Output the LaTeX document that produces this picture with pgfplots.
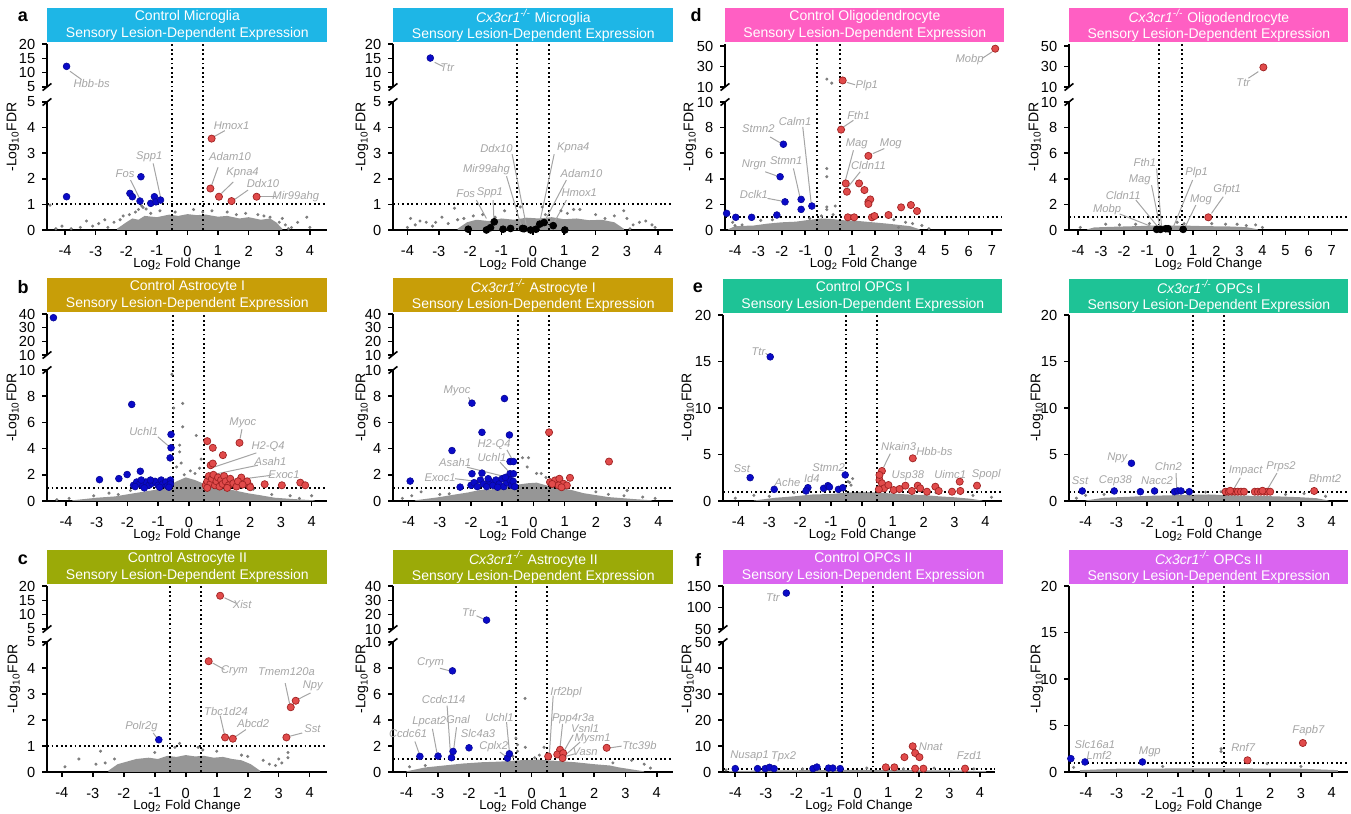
\documentclass[border=0pt]{standalone}
\usepackage{pgfplots}
\pgfplotsset{compat=1.18}
\usepackage{fontspec}
\setmainfont{Liberation Sans}
\definecolor{bl}{RGB}{10,10,200}
\definecolor{rd}{RGB}{225,75,75}
\definecolor{rdk}{RGB}{160,35,35}
\definecolor{cg}{RGB}{125,125,125}
\definecolor{cloud}{RGB}{150,150,150}
\definecolor{labc}{RGB}{165,165,165}
\definecolor{mic}{RGB}{30,182,230}
\definecolor{ast1}{RGB}{200,158,8}
\definecolor{ast2}{RGB}{155,170,8}
\definecolor{oli}{RGB}{255,95,195}
\definecolor{opc1}{RGB}{30,195,150}
\definecolor{opc2}{RGB}{218,100,240}
\tikzset{
  thr/.style={black, line width=1pt, dash pattern=on 0.9pt off 1.4pt},
  lab/.style={font=\fontsize{5.6}{6}\selectfont\itshape, text=labc, inner sep=0.4pt},
  lead/.style={labc, line width=0.5pt},
}
\pgfplotsset{
  vbase/.style={scale only axis, clip=false, anchor=south west,
    axis line style={-, line width=0.9pt},
    tick style={line width=0.8pt, black},
    tick align=outside, major tick length=2.4pt,
    tick label style={font=\fontsize{7.3}{8}\selectfont},
    /pgf/number format/assume math mode=true},
  vlow/.style={vbase, axis x line*=bottom, axis y line*=left, ymin=0,
    xtick={-4,...,4},
    xticklabel style={yshift=-2pt},
    xlabel={Log\textsubscript{2} Fold Change},
    xlabel style={font=\fontsize{6.6}{7}\selectfont, yshift=6pt}},
  vup/.style={vbase, axis x line=none, axis y line*=left, xtick=\empty},
  bp/.style={only marks, mark=*, mark size=1.7pt, mark options={fill=bl, draw=bl!75!black, line width=0.3pt}},
  rp/.style={only marks, mark=*, mark size=1.8pt, mark options={fill=rd, draw=rdk, line width=0.35pt}},
  kp/.style={only marks, mark=*, mark size=1.7pt, mark options={fill=black, draw=black}},
  gp/.style={only marks, mark=*, mark size=0.55pt, mark options={fill=cg, draw=cg}},
  cl/.style={fill=cloud, draw=none},
}
\newcommand{\thr}{%
  \draw[thr] (axis cs:-0.5,0) -- ([yshift=93pt]axis cs:-0.5,0);
  \draw[thr] (axis cs:0.5,0) -- ([yshift=93pt]axis cs:0.5,0);
  \draw[thr] ({rel axis cs:0,0}|-{axis cs:0,1}) -- ({rel axis cs:1,0}|-{axis cs:0,1});}
\newcommand{\brk}[1]{\draw[line width=0.8pt] (rel axis cs:0,#1) ++(-2.2pt,-1.8pt) -- ++(4.4pt,3.6pt);}
\newcommand{\banner}[3]{\node[fill=#1, text=white, anchor=south west, minimum width=#2, minimum height=17pt, inner sep=0pt, align=center, yshift=0.6pt, font=\fontsize{7}{8.3}\selectfont] at (rel axis cs:0,1) {#3};}
\newcommand{\ylab}[2]{\node[rotate=90, font=\fontsize{7}{8}\selectfont] at (#1,#2) {-Log\textsubscript{10}FDR};}
\newcommand{\ttl}{Sensory Lesion-Dependent Expression}
\newcommand{\kx}{\textit{Cx3cr1}\textsuperscript{\textit{-/-}}}
\newcommand{\gl}[3]{\node[lab] at (axis cs:#1,#2) {#3};}
\newcommand{\gline}[4]{\draw[lead] (axis cs:#1,#2) -- (axis cs:#3,#4);}
\newcommand{\plab}[3]{\node[font=\bfseries\fontsize{9}{10}\selectfont] at (#1,#2) {#3};}
\begin{document}
\begin{tikzpicture}
% ================= ROW 1 =================
% ---- a lower
\begin{axis}[vlow, at={(23.5pt,292pt)}, width=140pt, height=64pt, xmin=-4.59, xmax=4.56, ymax=5, ytick={0,...,5}]
\addplot[cl] coordinates {(-2.3,0.05) (-2.0,0.3) (-1.8,0.45) (-1.6,0.4) (-1.4,0.55) (-1.0,0.5) (-0.6,0.6) (-0.3,0.55) (0,0.62) (0.3,0.58) (0.6,0.6) (1.0,0.52) (1.3,0.55) (1.7,0.45) (2.0,0.5) (2.4,0.4) (2.7,0.45) (2.9,0.3) (3.1,0.05)} \closedcycle;
\addplot[gp] coordinates {(-4.49,0.97) (-4.3,0.05) (-4.1,0.15) (-3.8,0.05) (-3.5,0.1) (-3.3,0.35) (-3.1,0.15) (-2.9,0.25) (-2.7,0.4) (-2.6,0.1) (-2.4,0.3) (-2.2,0.4) (-2.1,0.55) (-1.9,0.6) (-1.7,0.7) (-1.6,0.8) (-1.5,0.95) (-1.45,0.88) (-1.35,0.82) (-1.2,0.65) (-0.9,0.75) (-0.4,0.7) (0.2,0.8) (0.5,0.7) (0.8,0.75) (1.3,0.7) (1.6,0.6) (1.9,0.65) (2.3,0.6) (2.5,0.55) (2.7,0.5) (3.0,0.3) (3.1,0.45) (3.2,0.2) (3.4,0.1) (3.6,0.3) (3.9,0.5) (4.0,0.1) (3.3,0.05)};
\thr
\addplot[bp] coordinates {(-3.95,1.3) (-1.88,1.43) (-1.8,1.3) (-1.55,1.13) (-1.52,2.08) (-1.2,1.04) (-1.08,1.3) (-1.03,1.1) (-0.88,1.17)};
\addplot[rp] coordinates {(0.79,3.57) (0.75,1.62) (1.03,1.3) (1.44,1.13) (2.26,1.3)};
\gline{0.86}{3.64}{1.22}{3.88}\gl{1.44}{4.09}{Hmox1}
\gline{0.79}{1.75}{1.0}{2.45}\gl{1.39}{2.86}{Adam10}
\gline{1.11}{1.43}{1.5}{1.88}\gl{1.8}{2.23}{Kpna4}
\gline{1.55}{1.2}{1.98}{1.56}\gl{2.47}{1.82}{Ddx10}
\gline{2.36}{1.3}{2.9}{1.3}\gl{3.54}{1.3}{Mir99ahg}
\gline{-1.86}{1.95}{-1.55}{1.2}\gl{-2.04}{2.2}{Fos}
\gline{-1.12}{2.6}{-0.87}{1.23}\gl{-1.25}{2.86}{Spp1}
\brk{1}
\end{axis}
% ---- a upper
\begin{axis}[vup, at={(23.5pt,363.5pt)}, width=140pt, height=21.5pt, xmin=-4.59, xmax=4.56, ymin=5, ymax=20, ytick={5,10,15,20}]
\addplot[bp] coordinates {(-3.95,12.2)};
\gline{-3.84}{10.5}{-3.46}{7.6}\gl{-3.13}{6.05}{Hbb-bs}
\brk{0}
\banner{mic}{140pt}{Control Microglia\\\ttl}
\end{axis}
% ---- a2 lower
\begin{axis}[vlow, at={(196.5pt,292pt)}, width=140pt, height=64pt, xmin=-4.46, xmax=4.47, ymax=5, ytick={0,...,5}]
\addplot[cl] coordinates {(-2.4,0.05) (-2.1,0.3) (-1.8,0.4) (-1.4,0.35) (-1.0,0.45) (-0.6,0.4) (-0.2,0.48) (0.2,0.45) (0.6,0.5) (1.0,0.42) (1.4,0.45) (1.8,0.38) (2.2,0.4) (2.6,0.3) (2.9,0.05)} \closedcycle;
\addplot[gp] coordinates {(-4.0,0.1) (-3.9,0.45) (-3.75,0.2) (-3.6,0.35) (-3.4,0.3) (-3.2,0.15) (-3.1,0.3) (-2.9,0.5) (-2.7,0.25) (-2.5,0.85) (-2.4,0.4) (-2.2,0.45) (-1.9,0.55) (-1.6,0.6) (-1.2,0.5) (-0.9,0.75) (-0.4,0.9) (0.3,0.9) (0.4,0.6) (0.9,0.75) (1.1,0.65) (1.3,0.8) (1.5,0.8) (2.0,0.6) (2.3,0.45) (2.6,0.55) (2.9,0.75) (3.0,0.45) (3.2,0.2) (3.4,0.3) (3.6,0.35) (3.8,0.2) (3.9,0.1) (3.1,0.05)};
\thr
\addplot[kp] coordinates {(-2.06,0.03) (-1.48,0.0) (-1.35,0.09) (-1.23,0.32) (-0.95,0.03) (-0.71,0.06) (-0.33,0.06) (-0.28,0.05) (-0.07,0.0) (0.1,0.03) (0.22,0.23) (0.36,0.29) (0.65,0.17) (1.02,0.0)};
\gline{-1.8}{1.17}{-1.48}{0.45}\gl{-2.14}{1.42}{Fos}
\gline{-1.27}{1.17}{-1.24}{0.4}\gl{-1.37}{1.45}{Spp1}
\gline{-0.84}{2.1}{-0.36}{0.12}\gl{-1.48}{2.34}{Mir99ahg}
\gline{-0.66}{2.96}{-0.2}{0.12}\gl{-1.16}{3.18}{Ddx10}
\gline{0.68}{2.96}{0.22}{0.3}\gl{1.29}{3.22}{Kpna4}
\gline{1.07}{1.95}{0.38}{0.35}\gl{1.55}{2.2}{Adam10}
\gline{1.07}{1.17}{0.65}{0.22}\gl{1.48}{1.45}{Hmox1}
\brk{1}
\end{axis}
% ---- a2 upper
\begin{axis}[vup, at={(196.5pt,363.5pt)}, width=140pt, height=21.5pt, xmin=-4.46, xmax=4.47, ymin=5, ymax=20, ytick={5,10,15,20}]
\addplot[bp] coordinates {(-3.27,15.1)};
\gline{-3.13}{13.6}{-2.87}{12.2}\gl{-2.73}{11.6}{Ttr}
\brk{0}
\banner{mic}{140pt}{\kx{} Microglia\\\ttl}
\end{axis}
% ---- d lower
\begin{axis}[vlow, at={(362.5pt,292pt)}, width=138.5pt, height=64pt, xmin=-4.43, xmax=7.43, ymax=10, ytick={0,2,...,10}, xtick={-4,...,7}]
\addplot[cl] coordinates {(-4.3,0.05) (-4.0,0.3) (-3.2,0.35) (-2.6,0.5) (-2.0,0.6) (-1.4,0.65) (-0.8,0.8) (-0.3,0.9) (0.2,0.85) (0.7,0.75) (1.3,0.7) (1.9,0.6) (2.5,0.5) (3.0,0.4) (3.5,0.3) (3.9,0.05)} \closedcycle;
\addplot[gp] coordinates {(-4.1,0.6) (-3.7,0.4) (-2.9,0.75) (-2.4,0.8) (-0.07,4.8) (-0.07,4.16) (-0.07,1.8) (-0.07,1.6) (0.29,1.87) (-0.3,1.1) (0.2,1.2) (2.8,0.8) (3.3,0.6) (3.6,0.5) (4.0,0.35) (-0.8,0.9) (1.0,0.9) (-4.0,0.35) (3.0,0.2) (4.3,0.1)};
\thr
\addplot[bp] coordinates {(-1.93,6.7) (-2.07,4.16) (-1.86,2.2) (-1.17,2.39) (-1.17,1.61) (-0.71,1.87) (-2.21,1.17) (-3.29,0.99) (-3.97,0.99) (-4.36,1.3)};
\addplot[rp] coordinates {(0.54,7.84) (1.71,5.79) (0.74,3.64) (0.79,2.99) (1.31,3.64) (1.54,3.12) (1.71,2.2) (1.79,2.39) (1.71,2.03) (0.83,0.99) (1.1,0.99) (1.86,0.99) (1.97,1.09) (2.57,1.17) (3.11,1.77) (3.53,1.95) (3.79,1.48)};
\gline{0.64}{8.05}{1.07}{8.57}\gl{1.29}{8.96}{Fth1}
\gline{1.9}{5.97}{2.39}{6.36}\gl{2.67}{6.7}{Mog}
\gline{1.07}{6.23}{0.71}{3.77}\gl{1.21}{6.7}{Mag}
\gline{1.36}{4.55}{0.79}{3.25}\gl{1.71}{5.06}{Cldn11}
\gline{-2.5}{7.27}{-2.07}{6.81}\gl{-3.0}{7.92}{Stmn2}
\gline{-2.71}{4.55}{-2.19}{4.21}\gl{-3.19}{5.06}{Nrgn}
\gline{-2.61}{2.47}{-2.0}{2.26}\gl{-3.19}{2.78}{Dclk1}
\gline{-1.5}{4.81}{-1.21}{2.47}\gl{-1.81}{5.45}{Stmn1}
\gline{-1.1}{8.05}{-0.74}{2.08}\gl{-1.43}{8.5}{Calm1}
\brk{1}
\end{axis}
% ---- d upper
\begin{axis}[vup, at={(362.5pt,363.5pt)}, width=138.5pt, height=21.5pt, xmin=-4.43, xmax=7.43, ymin=10, ymax=52, ytick={10,30,50}]
\addplot[gp] coordinates {(-0.07,17.7) (0.14,13.8)};
\addplot[rp] coordinates {(7.14,47.4) (0.61,16.4)};
\gline{6.57}{37.8}{7.0}{44.2}\gl{6.04}{36.8}{Mobp}
\gline{0.79}{14.5}{1.14}{12.2}\gl{1.64}{11.3}{Plp1}
\brk{0}
\banner{oli}{139.5pt}{Control Oligodendrocyte\\\ttl}
\end{axis}
% ---- d2 lower
\begin{axis}[vlow, at={(534.5pt,292pt)}, width=139.5pt, height=64pt, xmin=-4.39, xmax=7.71, ymax=10, ytick={0,2,...,10}, xtick={-4,...,7}]
\addplot[cl] coordinates {(-3.6,0.05) (-3.3,0.2) (-2.5,0.25) (-1.5,0.3) (-0.5,0.35) (0.5,0.35) (1.5,0.3) (2.5,0.28) (3.3,0.22) (3.8,0.05)} \closedcycle;
\addplot[gp] coordinates {(-3.9,0.2) (-2.8,0.45) (-2.2,0.4) (-1.5,0.45) (0.3,0.6) (0.6,0.5) (1.8,0.5) (2.4,0.45) (2.9,0.45) (3.3,0.35) (3.7,0.4) (4.0,0.2) (-0.9,0.5)};
\thr
\addplot[kp] coordinates {(-0.59,0.05) (-0.42,0.05) (-0.19,0.1) (-0.09,0.1) (0.56,0.05)};
\addplot[rp] coordinates {(1.65,0.99)};
\gline{-0.59}{4.8}{-0.38}{0.31}\gl{-1.1}{5.25}{Fth1}
\gline{-0.81}{3.5}{-0.45}{0.26}\gl{-1.32}{3.9}{Mag}
\gline{-1.49}{2.34}{-0.52}{0.21}\gl{-2.04}{2.73}{Cldn11}
\gline{-2.19}{1.25}{-0.62}{0.13}\gl{-2.74}{1.61}{Mobp}
\gline{0.97}{3.9}{0.13}{0.21}\gl{1.14}{4.47}{Plp1}
\gline{1.11}{1.95}{0.64}{0.21}\gl{1.33}{2.39}{Mog}
\gline{2.3}{2.6}{1.79}{1.3}\gl{2.47}{3.12}{Gfpt1}
\brk{1}
\end{axis}
% ---- d2 upper
\begin{axis}[vup, at={(534.5pt,363.5pt)}, width=139.5pt, height=21.5pt, xmin=-4.39, xmax=7.71, ymin=10, ymax=52, ytick={10,30,50}]
\addplot[rp] coordinates {(4.04,29.2)};
\gline{3.39}{18.6}{3.82}{25.0}\gl{3.17}{14.5}{Ttr}
\brk{0}
\banner{oli}{139.5pt}{\kx{} Oligodendrocyte\\\ttl}
\end{axis}
% ================= ROW 2 =================
% ---- b lower
\begin{axis}[vlow, at={(23.5pt,156.5pt)}, width=140pt, height=65.5pt, xmin=-4.62, xmax=4.5, ymax=10, ytick={0,2,...,10}]
\addplot[cl] coordinates {(-3.8,0.05) (-3.0,0.25) (-2.4,0.35) (-1.9,0.55) (-1.5,0.7) (-1.1,0.85) (-0.7,1.1) (-0.4,1.5) (-0.1,1.8) (0.2,1.6) (0.5,1.3) (0.9,1.0) (1.4,0.85) (1.9,0.6) (2.3,0.45) (2.8,0.25) (3.4,0.15) (4.1,0.05)} \closedcycle;
\addplot[gp] coordinates {(-0.55,9.67) (-0.2,7.45) (-0.49,7.1) (-0.2,5.66) (0.24,5.0) (-0.3,4.26) (-0.3,3.75) (-0.4,2.6) (-0.25,2.9) (0.05,2.3) (0.2,2.1) (0.35,2.5) (-0.15,2.0) (0.4,3.2) (-2.6,0.6) (-3.1,0.4) (-3.9,0.2) (-4.3,0.1) (2.7,0.5) (3.3,0.4) (3.6,0.2) (4.0,0.4) (2.1,0.9) (1.5,1.1) (-1.9,0.8) (-2.3,0.5)};
\thr
\addplot[bp] coordinates {(-1.86,7.37) (-0.58,5.08) (-0.58,4.06) (-0.61,3.29) (-1.58,2.27) (-2.01,2.02) (-2.28,1.71) (-2.91,1.63) (-1.8,1.2) (-1.7,1.45) (-1.6,1.3) (-1.5,1.15) (-1.4,1.45) (-1.3,1.2) (-1.2,1.35) (-1.1,1.5) (-1.0,1.2) (-0.9,1.6) (-0.85,1.3) (-0.75,1.45) (-0.7,1.15) (-0.6,1.6) (-0.6,1.3) (-1.55,1.6) (-1.25,1.6) (-0.95,1.05) (-1.45,1.0) (-0.65,1.05) (-1.75,1.1)};
\addplot[rp] coordinates {(1.65,4.44) (0.6,4.57) (0.78,4.06) (1.11,3.5) (0.71,2.73) (0.78,2.86) (1.71,1.79) (2.47,1.28) (3.03,1.2) (3.63,1.4) (3.79,1.2) (1.98,1.15) (0.55,1.2) (0.6,1.5) (0.65,1.9) (0.7,1.3) (0.75,1.7) (0.8,2.0) (0.85,1.2) (0.9,1.5) (0.95,1.8) (1.0,1.1) (1.05,1.6) (1.1,1.3) (1.15,1.9) (1.2,1.5) (1.3,1.2) (1.35,1.7) (1.45,1.35) (1.55,1.1) (1.6,1.5) (0.6,1.0) (1.25,1.0) (1.9,1.5) (2.0,1.05) (1.75,1.25)};
\gline{-1.01}{4.9}{-0.63}{4.13}\gl{-1.47}{5.28}{Uchl1}
\gline{1.73}{5.48}{1.67}{4.77}\gl{1.76}{5.97}{Myoc}
\gline{2.2}{3.67}{0.67}{2.47}\gl{2.58}{4.13}{H2-Q4}
\gline{2.25}{2.73}{0.67}{1.96}\gl{2.66}{2.98}{Asah1}
\gline{2.68}{1.96}{0.57}{1.33}\gl{3.1}{2.04}{Exoc1}
\brk{1}
\end{axis}
% ---- b upper
\begin{axis}[vup, at={(23.5pt,229.5pt)}, width=140pt, height=20.5pt, xmin=-4.62, xmax=4.5, ymin=10, ymax=40, ytick={10,20,30,40}]
\addplot[bp] coordinates {(-4.41,37.3)};
\brk{0}
\banner{ast1}{140pt}{Control Astrocyte I\\\ttl}
\end{axis}
% ---- b2 lower
\begin{axis}[vlow, at={(196.5pt,156.5pt)}, width=140pt, height=65.5pt, xmin=-4.5, xmax=4.47, ymax=10, ytick={0,2,...,10}]
\addplot[cl] coordinates {(-3.8,0.05) (-3,0.3) (-2.5,0.5) (-2.1,0.65) (-1.7,0.85) (-1.3,0.9) (-0.9,1.1) (-0.5,1.25) (-0.2,1.35) (0.1,1.4) (0.4,1.2) (0.8,1.0) (1.2,0.85) (1.6,0.6) (2.0,0.45) (2.4,0.3) (3.2,0.15) (3.8,0.05)} \closedcycle;
\addplot[gp] coordinates {(-0.16,3.3) (-0.35,3.3) (0.1,2.1) (0.25,2.1) (-0.2,2.6) (0.4,1.8) (-3.6,0.7) (-3.0,0.5) (-2.7,0.55) (2.0,0.7) (2.4,0.5) (2.9,0.4) (3.0,0.8) (3.5,0.3) (-3.9,0.4) (-4.2,0.2) (3.9,0.2)};
\thr
\addplot[bp] coordinates {(-1.97,7.47) (-0.93,7.82) (-1.65,5.24) (-0.77,5.04) (-2.61,3.85) (-3.95,1.52) (-1.97,2.08) (-1.65,2.13) (-0.75,3.01) (-0.64,3.01) (-0.75,2.08) (-0.64,2.08) (-2.0,1.2) (-1.9,1.4) (-1.8,1.1) (-1.7,1.6) (-1.6,1.3) (-1.5,1.1) (-1.4,1.5) (-1.3,1.2) (-1.2,1.6) (-1.1,1.3) (-1.0,1.7) (-0.95,1.1) (-0.85,1.4) (-0.75,1.6) (-0.7,1.2) (-0.65,1.5) (-0.6,1.1) (-1.45,1.7) (-1.15,1.05) (-0.9,1.8) (-2.35,1.06)};
\addplot[rp] coordinates {(0.5,5.24) (2.42,3.01) (0.53,1.44) (0.69,1.57) (0.83,1.7) (0.96,1.32) (1.17,1.77) (0.8,1.19) (1.07,1.19) (0.6,1.3) (0.9,1.05)};
\gline{-2.08}{7.92}{-2.01}{7.59}\gl{-2.45}{8.4}{Myoc}
\gline{-0.85}{3.9}{-0.66}{3.09}\gl{-1.26}{4.3}{H2-Q4}
\gline{-1.07}{2.96}{-0.73}{2.08}\gl{-1.33}{3.29}{Uchl1}
\gline{-2.13}{2.58}{-0.85}{1.82}\gl{-2.51}{2.96}{Asah1}
\gline{-2.51}{1.7}{-0.75}{1.19}\gl{-2.99}{1.77}{Exoc1}
\brk{1}
\end{axis}
% ---- b2 upper
\begin{axis}[vup, at={(196.5pt,229.5pt)}, width=140pt, height=20.5pt, xmin=-4.5, xmax=4.47, ymin=10, ymax=40, ytick={10,20,30,40}]
\brk{0}
\banner{ast1}{140pt}{\kx{} Astrocyte I\\\ttl}
\end{axis}
% ---- e single
\begin{axis}[vlow, at={(361.5pt,156.5pt)}, width=139.5pt, height=93pt, xmin=-4.5, xmax=4.54, ymax=20, ytick={0,5,...,20}]
\addplot[cl] coordinates {(-3.5,0.05) (-2.8,0.35) (-2.2,0.5) (-1.6,0.7) (-1.0,0.75) (-0.5,0.9) (0,1.0) (0.5,0.9) (1.0,0.8) (1.5,0.7) (2.0,0.65) (2.5,0.5) (3.0,0.4) (3.5,0.25) (3.9,0.05)} \closedcycle;
\addplot[gp] coordinates {(-0.4,2.0) (-0.3,2.4) (-0.45,2.1) (-0.35,1.7) (-3.5,0.6) (-4.1,0.3) (3.6,0.6) (3.2,0.8) (-2.2,0.9) (2.4,0.9) (4.2,0.4) (-3.0,0.5) (1.2,1.0)};
\thr
\addplot[bp] coordinates {(-2.97,15.5) (-3.62,2.51) (-2.84,1.25) (-1.75,1.43) (-1.81,1.08) (-1.24,1.36) (-1.1,1.65) (-1.05,1.5) (-0.76,1.25) (-0.62,1.43) (-0.54,2.8)};
\addplot[rp] coordinates {(1.65,4.59) (0.65,3.23) (3.17,2.08) (3.73,1.65) (0.57,2.26) (0.65,1.9) (0.72,1.36) (0.86,1.72) (1.03,1.18) (1.22,1.29) (1.41,1.65) (1.62,1.08) (1.81,1.65) (1.89,1.36) (2.11,1.0) (2.38,1.54) (2.49,1.08) (2.92,1.0) (3.19,1.08) (0.57,2.8) (0.55,1.25)};
\gline{-3.12}{15.9}{-3.02}{15.6}\gl{-3.35}{16.0}{Ttr}
\gl{-3.89}{3.44}{Sst}\gl{-2.41}{2.0}{Ache}\gl{-1.62}{2.44}{Id4}\gl{-1.08}{3.58}{Stmn2}
\gline{0.92}{5.1}{0.7}{3.6}\gl{1.19}{5.84}{Nkain3}
\gl{2.35}{5.3}{Hbb-bs}\gl{1.49}{2.69}{Usp38}\gl{2.86}{2.8}{Uimc1}\gl{4.03}{2.8}{Spopl}
\banner{opc1}{139.5pt}{Control OPCs I\\\ttl}
\end{axis}
% ---- e2 single
\begin{axis}[vlow, at={(534.5pt,156.5pt)}, width=139.5pt, height=93pt, xmin=-4.54, xmax=4.53, ymax=20, ytick={0,5,...,20}]
\addplot[cl] coordinates {(-4.0,0.05) (-3.4,0.35) (-2.6,0.45) (-2,0.55) (-1.4,0.6) (-0.8,0.65) (0,0.7) (0.8,0.6) (1.5,0.55) (2.2,0.5) (3,0.4) (3.5,0.3) (3.9,0.05)} \closedcycle;
\addplot[gp] coordinates {(-4.0,0.6) (-3.4,0.7) (-0.1,0.95) (0.4,1.0) (2.5,0.7) (3.1,0.8) (3.8,0.5) (-4.3,0.3)};
\thr
\addplot[bp] coordinates {(-2.51,4.06) (-4.11,1.08) (-3.07,1.08) (-2.22,1.0) (-1.76,1.08) (-1.11,1.0) (-1.0,1.08) (-0.9,1.08) (-0.63,1.0)};
\addplot[rp] coordinates {(0.55,1.0) (0.65,1.0) (0.75,1.0) (0.85,1.0) (0.95,1.0) (1.05,1.0) (1.15,1.0) (1.5,1.0) (1.6,1.0) (1.7,1.0) (1.8,1.0) (1.9,1.0) (2.0,1.0) (0.7,1.1) (1.75,1.1) (3.43,1.08)};
\gl{-2.97}{4.68}{Npy}\gl{-4.18}{2.19}{Sst}\gl{-3.03}{2.19}{Cep38}\gl{-1.68}{2.19}{Nacc2}
\gline{-1.06}{3.0}{-1.04}{1.3}\gl{-1.31}{3.7}{Chn2}
\gline{1.03}{2.5}{0.8}{1.2}\gl{1.2}{3.24}{Impact}
\gline{2.22}{3.0}{1.9}{1.2}\gl{2.35}{3.7}{Prps2}
\gl{3.78}{2.37}{Bhmt2}
\banner{opc1}{139.5pt}{\kx{} OPCs I\\\ttl}
\end{axis}
% ================= ROW 3 =================
% ---- c lower
\begin{axis}[vlow, at={(23.5pt,21pt)}, width=140pt, height=65pt, xmin=-4.48, xmax=4.56, ymax=5, ytick={0,...,5}]
\addplot[cl] coordinates {(-2.5,0.05) (-2.2,0.3) (-1.9,0.4) (-1.6,0.5) (-1.2,0.55) (-0.9,0.5) (-0.6,0.62) (-0.3,0.58) (0,0.65) (0.3,0.6) (0.6,0.62) (0.9,0.55) (1.2,0.58) (1.5,0.5) (1.8,0.45) (2.1,0.3) (2.4,0.05)} \closedcycle;
\addplot[gp] coordinates {(-3.9,0.2) (-3.45,0.5) (-2.9,0.3) (-2.75,0.8) (-2.6,0.35) (-0.35,0.95) (0.4,0.95) (0.55,0.85) (1.8,0.65) (2.0,0.6) (2.7,0.3) (2.9,0.25) (3.0,0.5) (3.1,0.35) (3.3,0.55) (3.3,0.75) (2.5,0.45) (-2.3,0.5) (1.0,0.8) (-1.0,0.75) (-0.2,1.1)};
\thr
\addplot[bp] coordinates {(-0.87,1.24)};
\addplot[rp] coordinates {(0.74,4.26) (3.39,2.49) (3.55,2.74) (3.25,1.33) (1.27,1.33) (1.52,1.28)};
\gline{0.87}{4.19}{1.25}{3.94}\gl{1.57}{3.9}{Crym}
\gline{3.21}{3.42}{3.36}{2.59}\gl{3.25}{3.87}{Tmem120a}
\gline{4.03}{3.04}{3.6}{2.78}\gl{4.1}{3.33}{Npy}
\gline{3.76}{1.5}{3.34}{1.37}\gl{4.09}{1.65}{Sst}
\gline{1.11}{2.17}{1.25}{1.44}\gl{1.3}{2.31}{Tbc1d24}
\gline{1.94}{1.63}{1.57}{1.33}\gl{2.18}{1.88}{Abcd2}
\gline{-1.05}{1.5}{-0.93}{1.31}\gl{-1.43}{1.76}{Polr2g}
\brk{1}
\end{axis}
% ---- c upper
\begin{axis}[vup, at={(23.5pt,92.5pt)}, width=140pt, height=21.5pt, xmin=-4.48, xmax=4.56, ymin=5, ymax=20, ytick={5,10,15,20}]
\addplot[rp] coordinates {(1.11,16.6)};
\gline{1.25}{15.9}{1.62}{14.0}\gl{1.82}{13.7}{Xist}
\brk{0}
\banner{ast2}{140pt}{Control Astrocyte II\\\ttl}
\end{axis}
% ---- c2 lower
\begin{axis}[vlow, at={(196.5pt,21pt)}, width=140pt, height=65pt, xmin=-4.43, xmax=4.52, ymax=10, ytick={0,2,...,10}]
\addplot[cl] coordinates {(-4.0,0.05) (-3.4,0.35) (-2.8,0.5) (-2.2,0.65) (-1.6,0.75) (-1,0.8) (-0.4,0.9) (0.2,0.95) (0.8,0.85) (1.4,0.75) (2,0.6) (2.5,0.5) (2.8,0.35) (3.6,0.05)} \closedcycle;
\addplot[gp] coordinates {(-0.21,5.66) (-0.45,2.1) (-0.45,1.6) (-0.2,1.9) (0.4,1.9) (0.25,1.3) (0.1,1.1) (-3.9,0.4) (3.2,0.9) (3.6,0.6) (3.8,0.3) (2.6,0.7) (-3.4,0.5) (-0.6,1.2) (-0.5,2.6)};
\thr
\addplot[bp] coordinates {(-2.53,7.78) (-3.57,1.2) (-2.99,1.22) (-2.56,1.1) (-2.51,1.58) (-2.0,1.86) (-0.77,1.07) (-0.71,1.4)};
\addplot[rp] coordinates {(0.53,1.2) (0.91,1.71) (0.82,1.35) (1.01,1.45) (0.99,1.07) (2.4,1.86)};
\gline{-2.93}{7.98}{-2.61}{7.78}\gl{-3.23}{8.37}{Crym}
\gline{-3.73}{2.35}{-3.59}{1.4}\gl{-3.95}{2.93}{Ccdc61}
\gline{-3.17}{3.32}{-3.02}{1.4}\gl{-3.27}{3.88}{Lpcat2}
\gline{-2.7}{5.1}{-2.59}{1.28}\gl{-2.81}{5.61}{Ccdc114}
\gline{-2.4}{3.44}{-2.49}{1.73}\gl{-2.35}{4.03}{Gnal}
\gl{-1.71}{2.93}{Slc4a3}
\gline{-1.01}{1.53}{-0.8}{1.15}\gl{-1.21}{1.99}{Cplx2}
\gline{-0.8}{3.83}{-0.71}{1.58}\gl{-1.03}{4.21}{Uchl1}
\gline{0.69}{5.87}{0.57}{1.4}\gl{1.1}{6.12}{Irf2bpl}
\gline{0.99}{3.7}{0.91}{1.91}\gl{1.33}{4.08}{Ppp4r3a}
\gline{1.33}{2.86}{1.03}{1.58}\gl{1.71}{3.32}{Vsnl1}
\gline{1.55}{2.3}{1.07}{1.28}\gl{1.95}{2.55}{Mysm1}
\gline{1.39}{1.4}{1.01}{1.15}\gl{1.71}{1.53}{Vasn}
\gline{2.88}{1.99}{2.51}{1.86}\gl{3.45}{2.04}{Ttc39b}
\brk{1}
\end{axis}
% ---- c2 upper
\begin{axis}[vup, at={(196.5pt,92.5pt)}, width=140pt, height=21.5pt, xmin=-4.43, xmax=4.52, ymin=10, ymax=40, ytick={10,20,30,40}]
\addplot[bp] coordinates {(-1.44,16.2)};
\gline{-1.76}{19.2}{-1.53}{16.9}\gl{-2.0}{21.5}{Ttr}
\brk{0}
\banner{ast2}{140pt}{\kx{} Astrocyte II\\\ttl}
\end{axis}
% ---- f lower
\begin{axis}[vlow, at={(361.5pt,21pt)}, width=136pt, height=65pt, xmin=-4.4, xmax=4.49, ymax=50, ytick={0,10,...,50}]
\addplot[cl] coordinates {(-4.2,0.3) (-3,0.6) (0,0.8) (3,0.6) (4.2,0.3)} \closedcycle;
\addplot[gp] coordinates {(-1.8,1.2) (0.3,1.5) (1.5,1.2) (2.5,1.5) (3.8,1.2) (-4.3,0.8)};
\thr
\addplot[bp] coordinates {(-4.0,1.3) (-3.27,1.3) (-3.02,1.3) (-2.88,1.8) (-2.73,1.3) (-1.46,1.3) (-1.33,1.9) (-0.95,1.5) (-0.81,1.5) (-0.57,1.3)};
\addplot[rp] coordinates {(0.92,1.8) (1.2,1.8) (1.53,5.7) (1.8,9.9) (1.88,7.3) (2.02,5.7) (1.88,1.3) (2.15,1.3) (3.51,1.3)};
\gl{-3.53}{6.3}{Nusap1}\gl{-2.42}{6.0}{Tpx2}\gl{2.39}{9.6}{Nnat}\gl{3.65}{6.3}{Fzd1}
\brk{1}
\end{axis}
% ---- f upper
\begin{axis}[vup, at={(361.5pt,92.5pt)}, width=136pt, height=21.5pt, xmin=-4.4, xmax=4.49, ymin=50, ymax=150, ytick={50,100,150}]
\addplot[bp] coordinates {(-2.33,133.6)};
\gl{-2.77}{121.9}{Ttr}
\brk{0}
\banner{opc2}{140pt}{Control OPCs II\\\ttl}
\end{axis}
% ---- f2 single
\begin{axis}[vlow, at={(534.5pt,21pt)}, width=139.5pt, height=93pt, xmin=-4.55, xmax=4.53, ymax=20, ytick={0,5,...,20}]
\addplot[cl] coordinates {(-4.2,0.2) (-3,0.35) (0,0.4) (3,0.35) (4.2,0.2)} \closedcycle;
\addplot[gp] coordinates {(-4.4,0.5) (0.4,2.5) (0.4,2.2) (1.9,0.9) (3.0,0.6) (-1.5,0.6)};
\thr
\addplot[bp] coordinates {(-4.49,1.44) (-4.03,1.08) (-2.16,1.08)};
\addplot[rp] coordinates {(1.26,1.26) (3.06,3.12)};
\gl{-3.71}{2.94}{Slc16a1}\gl{-3.57}{1.8}{Lmf2}\gl{-1.92}{2.15}{Mgp}\gl{1.12}{2.69}{Rnf7}\gl{3.24}{4.49}{Fapb7}
\banner{opc2}{139.5pt}{\kx{} OPCs II\\\ttl}
\end{axis}
% ---- y labels and panel letters
\ylab{6.5pt}{338.5pt}\ylab{181pt}{338.5pt}\ylab{345pt}{338.5pt}\ylab{517.5pt}{338.5pt}
\ylab{6.5pt}{203.3pt}\ylab{181pt}{203.3pt}\ylab{344pt}{203.3pt}\ylab{518.5pt}{203.3pt}
\ylab{7pt}{67.5pt}\ylab{181pt}{67.5pt}\ylab{344pt}{67.5pt}\ylab{518.5pt}{67.5pt}
\plab{11.5pt}{398.5pt}{a}\plab{11.5pt}{263.5pt}{b}\plab{11.5pt}{127pt}{c}
\plab{348pt}{399.5pt}{d}\plab{349pt}{263pt}{e}\plab{349pt}{127pt}{f}
\pgfresetboundingbox
\path[use as bounding box] (0,0) rectangle (675.5pt,407pt);
\end{tikzpicture}
\end{document}
